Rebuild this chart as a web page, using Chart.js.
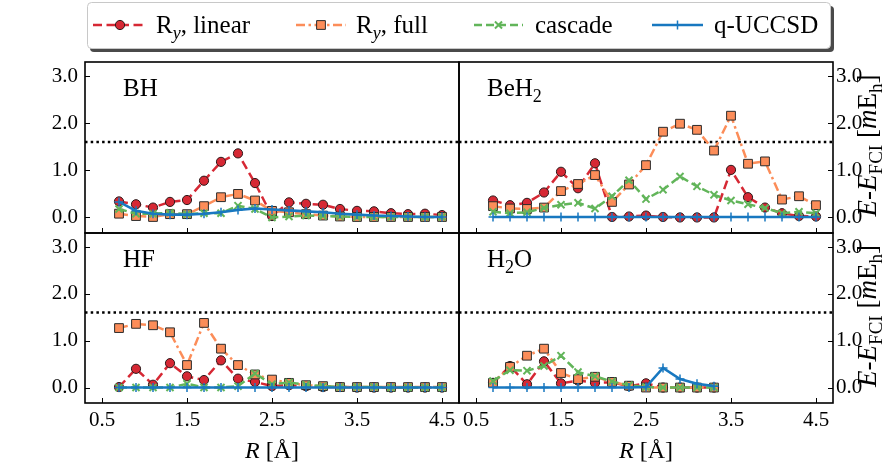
<!DOCTYPE html>
<html>
<head>
<meta charset="utf-8">
<script src="https://cdn.jsdelivr.net/npm/chart.js@4"></script>
<style>
  html, body { margin: 0; padding: 0; background: #fff; }
  #wrap { position: relative; width: 888px; height: 470px; }
  #wrap canvas { position: absolute; left: 0; top: 0; }
</style>
</head>
<body>
<div id="wrap">
  <canvas id="bh" width="888" height="470"></canvas>
  <canvas id="beh2" width="888" height="470"></canvas>
  <canvas id="hf" width="888" height="470"></canvas>
  <canvas id="h2o" width="888" height="470"></canvas>
</div>
<script>
// ---- data ----
const R_GRID = [0.7, 0.9, 1.1, 1.3, 1.5, 1.7, 1.9, 2.1, 2.3, 2.5, 2.7, 2.9, 3.1, 3.3, 3.5, 3.7, 3.9, 4.1, 4.3, 4.5];
const R_H2O  = [0.7, 0.9, 1.1, 1.3, 1.5, 1.7, 1.9, 2.1, 2.3, 2.5, 2.7, 2.9, 3.1, 3.3];
const X_TICKS = [0.5, 1.5, 2.5, 3.5, 4.5];
const Y_TICKS = [0, 1, 2, 3];
const X_RANGE = [0.3, 4.7];
const Y_RANGE = [-0.33, 3.3];
const CHEM_ACC = 1.6;   // dotted line, chemical accuracy

const BH_LINEAR = [0.34, 0.28, 0.21, 0.33, 0.37, 0.78, 1.18, 1.36, 0.73, 0.03, 0.32, 0.29, 0.27, 0.18, 0.14, 0.13, 0.09, 0.07, 0.08, 0.05];
const BH_FULL   = [0.08, 0.03, 0.01, 0.07, 0.07, 0.24, 0.43, 0.50, 0.36, 0.14, 0.11, 0.07, 0.04, 0.02, 0.01, 0.01, 0.01, 0.01, 0.01, 0.01];
const BH_CASC   = [0.18, 0.08, 0.08, 0.10, 0.07, 0.09, 0.09, 0.25, 0.18, 0.00, 0.02, 0.04, 0.03, 0.02, 0.01, 0.01, 0.01, 0.01, 0.01, 0.01];
const BH_QUCC   = [0.33, 0.14, 0.08, 0.06, 0.06, 0.08, 0.11, 0.16, 0.19, 0.17, 0.15, 0.13, 0.11, 0.08, 0.06, 0.04, 0.03, 0.02, 0.01, 0.01];

const BEH2_LINEAR = [0.36, 0.26, 0.31, 0.53, 0.97, 0.62, 1.15, 0.01, 0.02, 0.04, 0.01, 0.00, 0.00, 0.00, 1.01, 0.43, 0.21, 0.09, 0.03, 0.02];
const BEH2_FULL   = [0.24, 0.19, 0.18, 0.21, 0.56, 0.71, 0.90, 0.33, 0.70, 1.11, 1.82, 1.99, 1.86, 1.42, 2.16, 1.14, 1.19, 0.38, 0.45, 0.26];
const BEH2_CASC   = [0.12, 0.09, 0.11, 0.20, 0.27, 0.31, 0.19, 0.45, 0.79, 0.39, 0.59, 0.87, 0.66, 0.48, 0.36, 0.28, 0.20, 0.09, 0.12, 0.09];
const BEH2_QUCC   = [0.01, 0.01, 0.01, 0.01, 0.01, 0.01, 0.01, 0.01, 0.01, 0.01, 0.01, 0.01, 0.01, 0.01, 0.01, 0.01, 0.01, 0.01, 0.01, 0.01];

const HF_LINEAR = [0.01, 0.40, 0.06, 0.52, 0.24, 0.16, 0.58, 0.19, 0.12, 0.03, 0.05, 0.03, 0.01, 0.01, 0.00, 0.00, 0.00, 0.00, 0.00, 0.00];
const HF_FULL   = [1.27, 1.36, 1.33, 1.18, 0.48, 1.38, 0.83, 0.48, 0.28, 0.17, 0.10, 0.05, 0.03, 0.01, 0.01, 0.01, 0.01, 0.01, 0.01, 0.01];
const HF_CASC   = [0.00, 0.00, 0.00, 0.00, 0.08, 0.00, 0.00, 0.03, 0.30, 0.07, 0.11, 0.06, 0.03, 0.01, 0.01, 0.01, 0.00, 0.00, 0.00, 0.00];
const HF_QUCC   = [0.00, 0.00, 0.00, 0.00, 0.00, 0.00, 0.00, 0.00, 0.00, 0.00, 0.00, 0.00, 0.00, 0.00, 0.00, 0.00, 0.00, 0.00, 0.00, 0.00];

const H2O_LINEAR = [0.10, 0.46, 0.07, 0.56, 0.09, 0.15, 0.10, 0.11, 0.03, 0.09, 0.00, 0.00, 0.00, 0.00];
const H2O_FULL   = [0.10, 0.44, 0.68, 0.83, 0.31, 0.18, 0.23, 0.12, 0.04, 0.00, 0.00, 0.00, 0.00, 0.00];
const H2O_CASC   = [0.14, 0.37, 0.36, 0.46, 0.68, 0.33, 0.24, 0.13, 0.05, 0.01, 0.00, 0.00, 0.00, 0.00];
const H2O_QUCC   = [0.00, 0.00, 0.00, 0.00, 0.00, 0.00, 0.00, 0.00, 0.00, 0.01, 0.42, 0.18, 0.08, 0.03];

// ---- styles ----
const SERIF = '"Liberation Serif", "DejaVu Serif", serif';
const STYLES = [
  { color: '#d62834', fill: '#d62834', edge: '#2b1a1a', edgeW: 1, dash: [9, 4.5], width: 2.5, point: 'circle', radius: 4.6, order: 3 },
  { color: '#fc8d59', fill: '#fc8d59', edge: '#2b2b2b', edgeW: 1, dash: [9, 3.5, 2.5, 3.5], width: 2.5, point: 'rect', radius: 6.2, order: 2 },
  { color: '#62b55a', fill: '#62b55a', edge: '#62b55a', edgeW: 2, dash: [8, 4], width: 2.5, point: 'crossRot', radius: 5, order: 1 },
  { color: '#1878c0', fill: '#1878c0', edge: '#1878c0', edgeW: 1.5, dash: [], width: 2.6, point: 'cross', radius: 4.5, order: 0 }
];
const LEGEND_LABELS = [
  [{ t: 'R' }, { t: 'y', it: 1, sub: 1 }, { t: ', linear' }],
  [{ t: 'R' }, { t: 'y', it: 1, sub: 1 }, { t: ', full' }],
  [{ t: 'cascade' }],
  [{ t: 'q-UCCSD' }]
];

function drawRich(ctx, parts, x, y, size, align) {
  const fontOf = p => (p.it ? 'italic ' : '') + (p.sub ? Math.round(size * 0.7) : size) + 'px ' + SERIF;
  let w = 0;
  parts.forEach(p => { ctx.font = fontOf(p); w += ctx.measureText(p.t).width; });
  let cx = align === 'center' ? x - w / 2 : x;
  ctx.textAlign = 'left';
  ctx.textBaseline = 'alphabetic';
  parts.forEach(p => {
    ctx.font = fontOf(p);
    ctx.fillText(p.t, cx, y + (p.sub ? size * 0.24 : 0));
    cx += ctx.measureText(p.t).width;
  });
  return w;
}

function drawLegend(ctx) {
  ctx.save();
  // shadow + box
  ctx.fillStyle = '#4a4a4a';
  ctx.beginPath(); ctx.roundRect(90, 6, 744, 46, 4); ctx.fill();
  ctx.fillStyle = '#fff';
  ctx.strokeStyle = '#c8c8c8';
  ctx.lineWidth = 1;
  ctx.beginPath(); ctx.roundRect(87.5, 2.5, 743, 46, 4); ctx.fill(); ctx.stroke();
  const entries = [
    { x0: 93, x1: 147, text: 156 },
    { x0: 296, x1: 346, text: 356 },
    { x0: 474, x1: 523, text: 535 },
    { x0: 652, x1: 703, text: 714 }
  ];
  const yMid = 25;
  entries.forEach((e, i) => {
    const s = STYLES[i];
    ctx.strokeStyle = s.color;
    ctx.lineWidth = s.width;
    ctx.setLineDash(s.dash);
    ctx.beginPath(); ctx.moveTo(e.x0, yMid); ctx.lineTo(e.x1, yMid); ctx.stroke();
    ctx.setLineDash([]);
    ctx.fillStyle = s.fill;
    ctx.strokeStyle = s.edge;
    ctx.lineWidth = s.edgeW;
    Chart.helpers.drawPoint(ctx, { pointStyle: s.point, radius: s.radius, rotation: 0, borderWidth: s.edgeW }, (e.x0 + e.x1) / 2, yMid);
    ctx.fillStyle = '#000';
    drawRich(ctx, LEGEND_LABELS[i], e.text, yMid + 8, 25, 'left');
  });
  ctx.restore();
}

function buildDatasets(xs, vals) {
  const ds = STYLES.map((s, i) => ({
    data: vals[i].map((v, j) => ({ x: xs[j], y: v })),
    borderColor: s.color,
    backgroundColor: s.fill,
    borderWidth: s.width,
    borderDash: s.dash,
    pointStyle: s.point,
    pointRadius: s.radius,
    pointBackgroundColor: s.fill,
    pointBorderColor: s.edge,
    pointBorderWidth: s.edgeW,
    tension: 0,
    fill: false,
    order: s.order
  }));
  // chemical accuracy threshold
  ds.push({
    data: [{ x: X_RANGE[0], y: CHEM_ACC }, { x: X_RANGE[1], y: CHEM_ACC }],
    borderColor: '#000', borderWidth: 2.5, borderDash: [2.5, 3.2],
    pointRadius: 0, fill: false, order: 10
  });
  return ds;
}

const Y_LABEL = [{ t: 'E', it: 1 }, { t: '-' }, { t: 'E', it: 1 }, { t: 'FCI', sub: 1 }, { t: ' [' }, { t: 'm', it: 1 }, { t: 'E' }, { t: 'h', sub: 1 }, { t: ']' }];
const X_LABEL = [{ t: 'R', it: 1 }, { t: ' [Å]' }];

function makePanel(id, box, opts) {
  const W = 888, H = 470;
  const yLeft = opts.ySide === 'left';
  const decor = {
    id: 'decor',
    afterDraw(chart) {
      const { ctx, chartArea: a, scales } = chart;
      ctx.save();
      // inward tick marks
      ctx.strokeStyle = '#000';
      ctx.lineWidth = 1;
      ctx.beginPath();
      X_TICKS.forEach(v => {
        const px = Math.round(scales.x.getPixelForValue(v)) + 0.5;
        ctx.moveTo(px, a.bottom); ctx.lineTo(px, a.bottom - 5);
      });
      Y_TICKS.forEach(v => {
        const py = Math.round(scales.y.getPixelForValue(v)) + 0.5;
        if (yLeft) { ctx.moveTo(a.left, py); ctx.lineTo(a.left + 5, py); }
        else { ctx.moveTo(a.right, py); ctx.lineTo(a.right - 5, py); }
      });
      ctx.stroke();
      // frame
      ctx.lineWidth = 1.6;
      ctx.strokeRect(a.left, a.top, a.right - a.left, a.bottom - a.top);
      // molecule name
      ctx.fillStyle = '#000';
      drawRich(ctx, opts.name, a.left + (yLeft ? 38 : 28), a.top + 34, 25, 'left');
      // x title
      if (opts.showX) drawRich(ctx, X_LABEL, (a.left + a.right) / 2, 458, 24, 'center');
      // y title (right side, reading upward)
      if (!yLeft) {
        ctx.translate(876, (a.top + a.bottom) / 2 - 2);
        ctx.rotate(-Math.PI / 2);
        drawRich(ctx, Y_LABEL, 0, 0, 27, 'center');
      }
      ctx.restore();
      if (opts.legend) drawLegend(ctx);
    }
  };
  const tickFont = { family: SERIF, size: 21 };
  return new Chart(document.getElementById(id), {
    type: 'line',
    data: { datasets: buildDatasets(opts.xs, opts.vals) },
    options: {
      responsive: false,
      animation: false,
      devicePixelRatio: 1,
      layout: {
        padding: {
          left: yLeft ? 0 : box.left,
          right: yLeft ? W - box.right : 0,
          top: box.top,
          bottom: opts.showX ? 0 : H - box.bottom
        }
      },
      plugins: { legend: { display: false }, tooltip: { enabled: false } },
      scales: {
        x: {
          type: 'linear', position: 'bottom',
          min: X_RANGE[0], max: X_RANGE[1],
          afterBuildTicks: s => { s.ticks = X_TICKS.map(v => ({ value: v })); },
          afterFit: s => { s.height = opts.showX ? H - box.bottom : 0; },
          grid: { display: false, drawTicks: false },
          border: { display: false },
          ticks: {
            display: opts.showX, autoSkip: false, maxRotation: 0, padding: 5,
            color: '#000', font: tickFont, callback: v => v.toFixed(1)
          }
        },
        y: {
          type: 'linear', position: opts.ySide,
          min: Y_RANGE[0], max: Y_RANGE[1],
          afterBuildTicks: s => { s.ticks = Y_TICKS.map(v => ({ value: v })); },
          afterFit: s => { s.width = yLeft ? box.left : W - box.right; },
          grid: { display: false, drawTicks: false },
          border: { display: false },
          ticks: {
            padding: yLeft ? 7 : 3, color: '#000', font: tickFont,
            callback: v => v.toFixed(1)
          }
        }
      }
    },
    plugins: [decor]
  });
}

makePanel('bh', { left: 85, top: 62, right: 459, bottom: 233 }, {
  ySide: 'left', showX: false, legend: true, name: [{ t: 'BH' }],
  xs: R_GRID, vals: [BH_LINEAR, BH_FULL, BH_CASC, BH_QUCC]
});
makePanel('beh2', { left: 459, top: 62, right: 833, bottom: 233 }, {
  ySide: 'right', showX: false, name: [{ t: 'BeH' }, { t: '2', sub: 1 }],
  xs: R_GRID, vals: [BEH2_LINEAR, BEH2_FULL, BEH2_CASC, BEH2_QUCC]
});
makePanel('hf', { left: 85, top: 233, right: 459, bottom: 403 }, {
  ySide: 'left', showX: true, name: [{ t: 'HF' }],
  xs: R_GRID, vals: [HF_LINEAR, HF_FULL, HF_CASC, HF_QUCC]
});
makePanel('h2o', { left: 459, top: 233, right: 833, bottom: 403 }, {
  ySide: 'right', showX: true, name: [{ t: 'H' }, { t: '2', sub: 1 }, { t: 'O' }],
  xs: R_H2O, vals: [H2O_LINEAR, H2O_FULL, H2O_CASC, H2O_QUCC]
});
</script>
</body>
</html>
